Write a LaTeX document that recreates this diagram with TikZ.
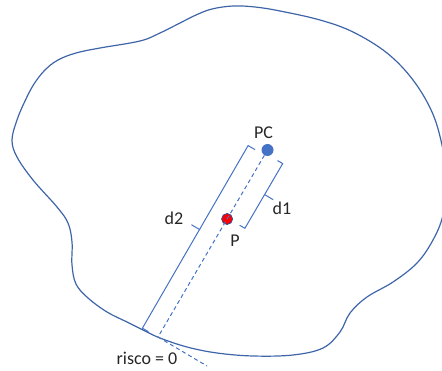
\documentclass[tikz,border=0pt]{standalone}
\usepackage{fontspec}
\setmainfont{Carlito}
\usetikzlibrary{calc}
\definecolor{blobblue}{HTML}{3F65A9}
\definecolor{brblue}{HTML}{4472C4}
\definecolor{pedge}{HTML}{2F528F}
\begin{document}
\begin{tikzpicture}[x=1pt,y=-1pt,
  lbl/.style={font=\fontsize{18}{21}\selectfont, text=black!85, inner sep=0pt},
  brk/.style={draw=brblue, line width=1pt},
  axisline/.style={draw=brblue, line width=1pt, dash pattern=on 4pt off 3pt},
  dotpc/.style={circle, fill=brblue, minimum size=12pt, inner sep=0pt},
  dotp/.style={circle, fill=red, draw=pedge, line width=0.8pt, minimum size=11pt, inner sep=0pt}]
\useasboundingbox (0,0) rectangle (442,371);
\clip (0,0) rectangle (442,371);
% region outline
\draw[blobblue, line width=1.2pt] plot[smooth cycle, tension=0.6] coordinates {
 (233,6) (212,9) (196,15) (180,23) (160,33) (140,41) (100,48) (76,53) (58,60)
 (45,70) (34,84) (25,101) (17,120) (12,140) (17,157) (33,180) (57,207) (68,223) (72,242) (72,265)
 (76,284) (88,298) (107,312) (127,322) (143,330) (160,338) (187,347) (217,353)
 (253,356) (293,355) (323,348) (340,332) (350,313) (367,297) (393,282) (417,263)
 (433,240) (443,215) (447,180) (442,145) (432,112) (413,80) (387,53) (353,32)
 (320,20) (280,11) (255,7)};
% points
\coordinate (E) at (158,337);
\coordinate (T) at (207,366);
\node[dotpc] (pc) at (267.5,150) {};
\node[dotp] (p) at (227.1,219) {};
% axis and tangent
\draw[axisline] (pc) -- (E);
\draw[axisline] (E) -- (T);
% d2 bracket
\draw[brk] (255.0,149.6) -- (248.1,145.6) -- (142.4,328.2) -- (148.4,331.7);
\draw[brk] (200,229.8) -- (191.4,224.7);
% d1 bracket
\draw[brk] (277.5,160.6) -- (282.7,163.6) -- (244.9,228.3) -- (239.7,225.3);
\draw[brk] (264.6,194.6) -- (273.2,199.7);
% labels
\node[lbl] (lpc) at (263.5,132.5) {PC};
\node[lbl] (ld1) at (282,208) {d1};
\node[lbl] (ld2) at (174,218) {d2};
\node[lbl] (lp) at (235,241) {P};
\node[lbl] (lr) at (147,358.5) {risco = 0};
\end{tikzpicture}
\end{document}
